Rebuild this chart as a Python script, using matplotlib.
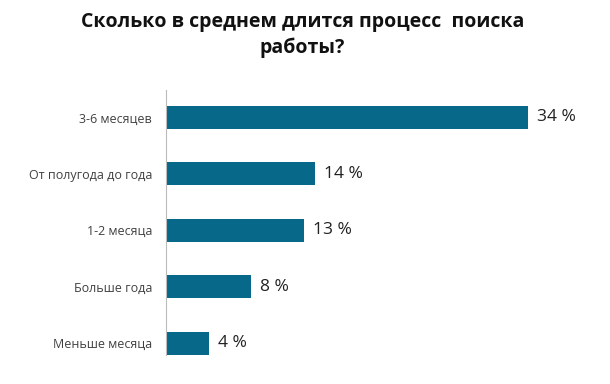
import matplotlib.pyplot as plt
import numpy as np

categories = ["3-6 месяцев", "От полугода до года", "1-2 месяца", "Больше года", "Меньше месяца"]
values = [34, 14, 13, 8, 4]
value_labels = ["34 %", "14 %", "13 %", "8 %", "4 %"]
title = "Сколько в среднем длится процесс  поиска\nработы?"

plt.rcParams['font.family'] = ['Open Sans', 'DejaVu Sans']

fig = plt.figure(figsize=(6.1, 3.84), dpi=100)
ax = fig.add_axes([0.2721, 0.0326, 0.6984, 0.735])

y = np.arange(len(categories))
ax.barh(y, values, height=0.41, color='#07688A')
for yi, v, lab in zip(y, values, value_labels):
    ax.text(v + 0.85, yi, lab, va='center', ha='left', fontsize=12.5, color='#222222')

ax.set_ylim(4.5, -0.5)
ax.set_xlim(0, 40)
ax.set_yticks(y)
ax.set_yticklabels(categories, fontsize=9, color='#404040')
ax.tick_params(axis='y', length=0, pad=10)
ax.set_xticks([])
for s in ['top', 'right', 'bottom']:
    ax.spines[s].set_visible(False)
ax.spines['left'].set_color('#BBBBBB')
ax.spines['left'].set_bounds(-0.49, 4.2)

fig.text(0.496, 0.97, title, ha='center', va='top', fontsize=14, fontweight='bold',
         color='#111111', linespacing=1.4)

fig.savefig('out.png', dpi=100)
